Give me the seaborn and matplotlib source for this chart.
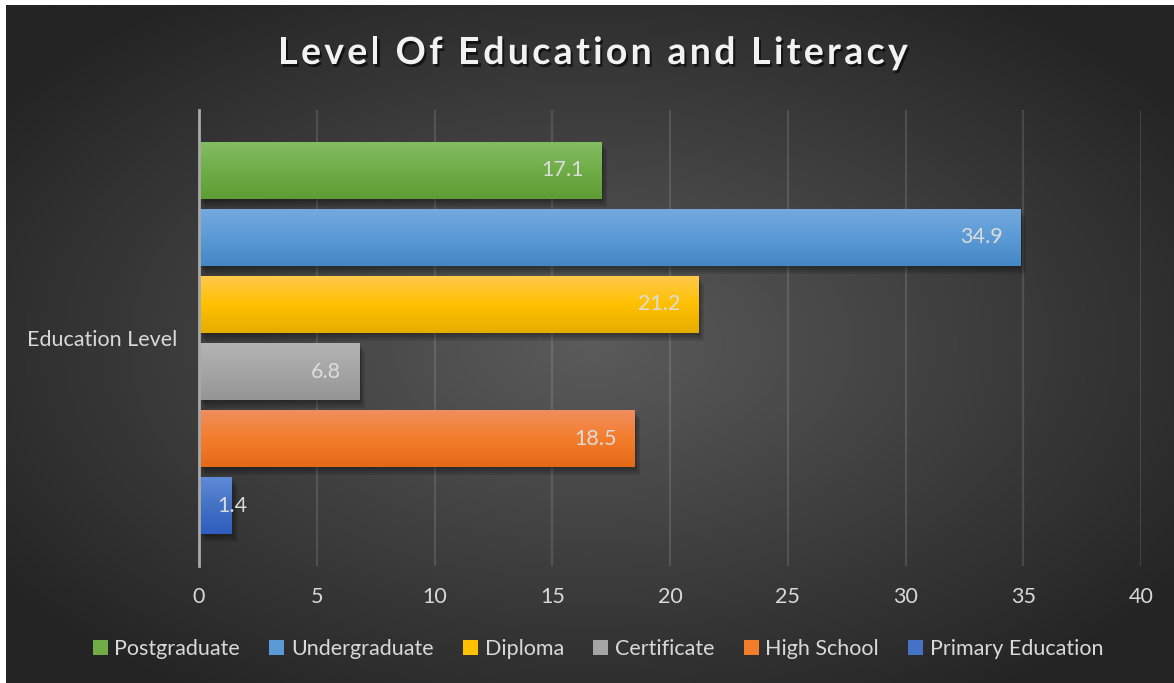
import numpy as np
import pandas as pd
import matplotlib
matplotlib.use("Agg")
import matplotlib.pyplot as plt
import matplotlib.patheffects as pe
from matplotlib.colors import to_rgb
from matplotlib.patches import Patch
import seaborn as sns

# ---- data ----
category = ["Education Level"]
levels = ["Postgraduate", "Undergraduate", "Diploma", "Certificate",
          "High School", "Primary Education"]
shares = [17.1, 34.9, 21.2, 6.8, 18.5, 1.4]
x_ticks = [0, 5, 10, 15, 20, 25, 30, 35, 40]
title = "Level Of Education and Literacy"

# (top, middle, bottom) shades for each bar's vertical gradient
shades = [
    ("#83bc63", "#70ad47", "#5e9d33"),
    ("#74a9df", "#5b9bd5", "#4487c5"),
    ("#ffc94c", "#ffc000", "#e5ad00"),
    ("#b4b4b4", "#a5a5a5", "#959595"),
    ("#f08e5e", "#f47d2c", "#e46a18"),
    ("#5e89d7", "#4472c4", "#2f5ebf"),
]
mid_colors = [s[1] for s in shades]

df = pd.DataFrame({"cat": category * len(levels), "level": levels, "value": shares})

sns.set_theme(style="white")
plt.rcParams["font.family"] = ["Lato", "DejaVu Sans"]

W, H = 1174, 683
fig = plt.figure(figsize=(W / 100, H / 100), dpi=100, facecolor="white")

# ---- dark radial backdrop ----
bg = fig.add_axes([6 / W, 0, 1 - 6 / W, 1 - 5 / H], zorder=-5)
gy, gx = np.mgrid[0:1:400j, 0:1:700j]
r = np.sqrt(((gx - 0.5) / 0.62) ** 2 + ((gy - 0.5) / 0.62) ** 2)
r = np.clip(r, 0, 1)
c_in = np.array(to_rgb("#5b5b5b"))
c_out = np.array(to_rgb("#242424"))
img = c_in[None, None, :] * (1 - r[..., None]) + c_out[None, None, :] * r[..., None]
bg.imshow(img, aspect="auto", extent=(0, 1, 0, 1), origin="lower")
bg.set_axis_off()

# ---- main bar axes ----
ax = fig.add_axes([199 / W, 1 - 566 / H, (1141 - 199) / W, (566 - 110) / H])
ax.patch.set_alpha(0)

sns.barplot(data=df, x="value", y="cat", hue="level", hue_order=levels,
            palette=mid_colors, orient="h", width=0.8, gap=0.15,
            legend=False, ax=ax, saturation=1)

ax.set_xlim(0, 40)
ax.set_ylim(0.4537, -0.4537)
ax.set_xticks(x_ticks)
ax.set_xticklabels([str(t) for t in x_ticks])
ax.set_xlabel("")
ax.set_ylabel("")

ax.grid(axis="x", color="white", alpha=0.12, lw=1.6)
ax.grid(axis="y", visible=False)
ax.set_axisbelow(True)
for side in ["top", "right", "bottom"]:
    ax.spines[side].set_visible(False)
ax.spines["left"].set_color("#a9a9a9")
ax.spines["left"].set_linewidth(2.0)
ax.spines["left"].set_zorder(6)

ax.tick_params(axis="x", length=0, pad=15, labelsize=15.5, labelcolor="#d9d9d9")
ax.tick_params(axis="y", length=0, pad=16, labelsize=15.5, labelcolor="#d9d9d9")

# soft drop shadow built from a few faint offset copies
soft_shadow = [pe.SimplePatchShadow(offset=(dx, -dy), shadow_rgbFace="black", alpha=0.10)
               for dx, dy in [(1, 1.5), (2, 3), (3, 4), (4, 5.5)]] + [pe.Normal()]

# gradient fill, shadow and value label for each bar
px_per_unit = ax.get_position().width * W / 40
for container, (top, mid, bot), val in zip(ax.containers, shades, shares):
    for bar in container:
        bar.set_path_effects(soft_shadow)
        bar.set_edgecolor("none")
        x0, y0 = bar.get_x(), bar.get_y()
        w, h = bar.get_width(), bar.get_height()
        t = np.linspace(0, 1, 64)[:, None]
        ct, cm, cb = (np.array(to_rgb(c)) for c in (top, mid, bot))
        grad = np.where(t < 0.5,
                        ct * (1 - t / 0.5) + cm * (t / 0.5),
                        cm * (1 - (t - 0.5) / 0.5) + cb * ((t - 0.5) / 0.5))
        grad = grad[:, None, :]
        im = ax.imshow(grad, aspect="auto", origin="upper",
                       extent=(x0, x0 + w, y0 + h, y0),
                       zorder=bar.get_zorder() + 0.1, interpolation="bilinear")
        im.set_clip_path(bar)

        yc = y0 + h / 2
        if val * px_per_unit > 60:
            ax.annotate(f"{val}", xy=(val, yc), xytext=(-13, 0),
                        textcoords="offset points", ha="right", va="center",
                        fontsize=15.5, color="#dcdcdc", zorder=10)
        else:
            ax.annotate(f"{val}", xy=(val, yc), xytext=(0, 0),
                        textcoords="offset points", ha="center", va="center",
                        fontsize=15.5, color="#dcdcdc", zorder=10)

ax.set_xlim(0, 40)
ax.set_ylim(0.4537, -0.4537)

# ---- letter-spaced title ----
renderer = fig.canvas.get_renderer()
title_kw = dict(fontsize=27, fontweight="bold", color="#f2f2f2",
                path_effects=[pe.withSimplePatchShadow(offset=(1.5, -2),
                                                       shadow_rgbFace="black",
                                                       alpha=0.6)])
tracking = 3.3  # extra px between letters


def text_width(s):
    tmp = fig.text(0, 0, s, **title_kw)
    wpx = tmp.get_window_extent(renderer).width
    tmp.remove()
    return wpx


total = text_width(title) + tracking * (len(title) - 1)
x_start = 593 - total / 2
y_title = 1 - 53 / H
for i, ch in enumerate(title):
    if ch == " ":
        continue
    xpx = x_start + (text_width(title[:i]) if i else 0) + tracking * i
    fig.text(xpx / W, y_title, ch, ha="left", va="center", **title_kw)

# ---- legend ----
handles = [Patch(facecolor=c, edgecolor="none") for c in mid_colors]
fig.legend(handles, levels, loc="center", bbox_to_anchor=(598 / W, 1 - 649 / H),
           ncol=6, frameon=False, fontsize=15.5, labelcolor="#d9d9d9",
           handlelength=0.7, handleheight=0.7, handletextpad=0.3,
           columnspacing=1.37)

fig.savefig("out.png", dpi=100, facecolor="white")
